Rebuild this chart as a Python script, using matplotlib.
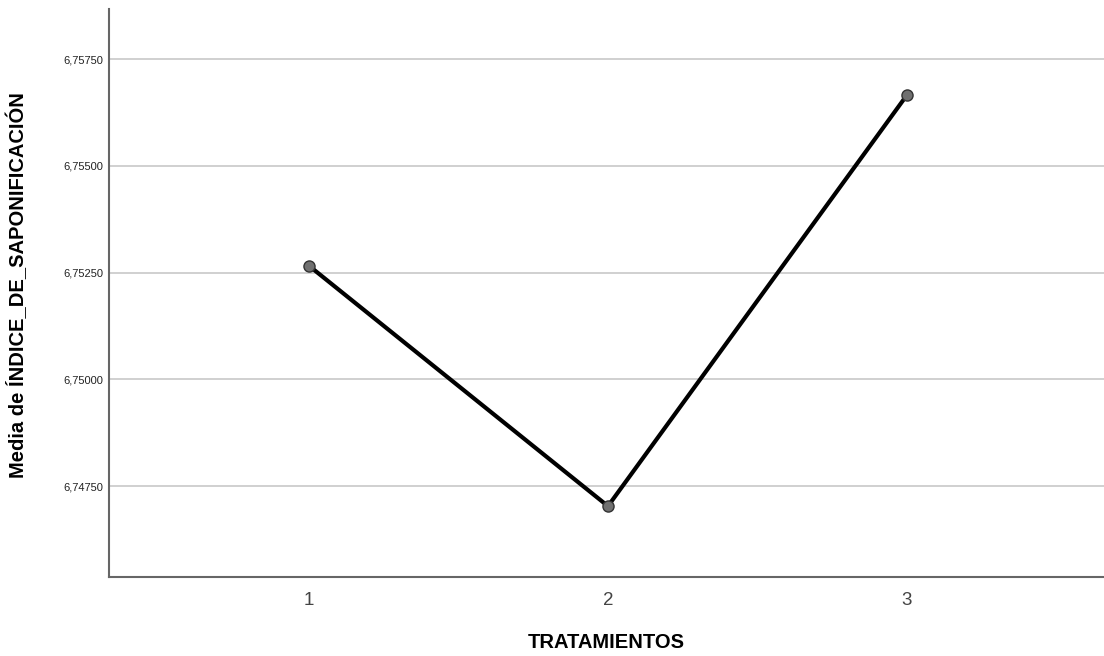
import matplotlib.pyplot as plt
from matplotlib.ticker import FuncFormatter

tratamientos = [1, 2, 3]
medias = [6.75266, 6.74703, 6.75666]
y_ticks = [6.7475, 6.7500, 6.7525, 6.7550, 6.7575]

plt.rcParams['font.family'] = ['Liberation Sans', 'DejaVu Sans']

fig = plt.figure(figsize=(11.04, 6.56), dpi=100)
ax = fig.add_axes([0.0987, 0.1204, 0.9013, 0.8656])

ax.plot(tratamientos, medias, color='black', linewidth=3, zorder=3)
ax.plot(tratamientos, medias, 'o', markersize=8, markerfacecolor='#707070',
        markeredgecolor='#333333', markeredgewidth=1, zorder=4)

ax.set_xlim(0.331, 3.659)
ax.set_ylim(6.74537, 6.75867)
ax.set_xticks(tratamientos)
ax.set_yticks(y_ticks)
ax.yaxis.set_major_formatter(FuncFormatter(lambda v, p: f"{v:.5f}".replace('.', ',')))

ax.grid(axis='y', color='#c8c8c8', linewidth=1.2)
ax.set_axisbelow(True)
for s in ['top', 'right']:
    ax.spines[s].set_visible(False)
for s in ['left', 'bottom']:
    ax.spines[s].set_color('#666666')
    ax.spines[s].set_linewidth(1.5)

ax.tick_params(axis='both', length=0)
ax.tick_params(axis='y', labelsize=8, pad=4, labelcolor='#222222')
ax.tick_params(axis='x', labelsize=13.5, pad=11, labelcolor='#444444')

ax.set_xlabel('TRATAMIENTOS', fontsize=14.5, fontweight='bold', labelpad=17)
ax.set_ylabel('Media de ÍNDICE_DE_SAPONIFICACIÓN', fontsize=14.5, fontweight='bold')
ax.yaxis.set_label_coords(-0.0814, 0.514)

fig.savefig('out.png', dpi=100)
